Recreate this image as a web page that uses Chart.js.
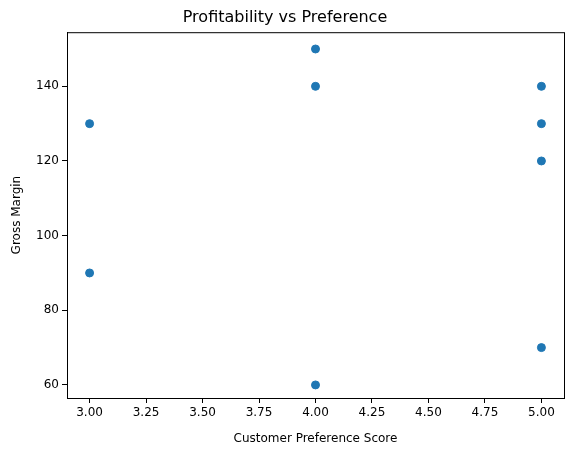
<!DOCTYPE html>
<html>
<head>
<meta charset="utf-8">
<script src="https://cdn.jsdelivr.net/npm/chart.js@4"></script>
<style>
  html, body { margin: 0; padding: 0; background: #fff; }
  #wrap { width: 571px; height: 455px; }
</style>
</head>
<body>
<div id="wrap"><canvas id="scatter"></canvas></div>
<script>
const preferenceScores = [3, 3, 4, 4, 4, 5, 5, 5, 5];
const grossMargins = [130, 90, 150, 140, 60, 140, 130, 120, 70];
const xTicks = [3.0, 3.25, 3.5, 3.75, 4.0, 4.25, 4.5, 4.75, 5.0];
const yTicks = [60, 80, 100, 120, 140];

Chart.defaults.font.family = "'DejaVu Sans', sans-serif";
Chart.defaults.color = '#000';

const frame = {
    id: 'frame',
    afterDraw(chart) {
        const a = chart.chartArea, c = chart.ctx;
        c.save();
        c.strokeStyle = '#000';
        c.lineWidth = 1;
        c.strokeRect(a.left + 0.5, a.top + 0.5, a.right - a.left, a.bottom - a.top);
        c.restore();
    }
};

new Chart(document.getElementById('scatter'), {
    type: 'scatter',
    data: {
        datasets: [{
            data: preferenceScores.map((x, i) => ({ x: x, y: grossMargins[i] })),
            backgroundColor: '#1f77b4',
            borderColor: '#1f77b4',
            pointRadius: 4,
            pointHoverRadius: 4
        }]
    },
    options: {
        responsive: true,
        maintainAspectRatio: false,
        animation: false,
        layout: { padding: { right: 7, left: 6, bottom: 5 } },
        plugins: {
            legend: { display: false },
            tooltip: { enabled: false },
            title: {
                display: true,
                text: 'Profitability vs Preference',
                font: { size: 16, weight: 'normal' },
                padding: { top: 8, bottom: 5 }
            }
        },
        scales: {
            x: {
                type: 'linear',
                min: 2.9,
                max: 5.1,
                afterBuildTicks: axis => { axis.ticks = xTicks.map(v => ({ value: v })); },
                afterFit: axis => { axis.height = 52; },
                ticks: { font: { size: 12 }, callback: v => v.toFixed(2), maxRotation: 0, autoSkip: false },
                grid: { drawOnChartArea: false, tickLength: 5, color: '#000' },
                border: { color: '#000' },
                title: { display: true, text: 'Customer Preference Score', font: { size: 12 }, padding: { top: 2 } }
            },
            y: {
                min: 56.5,
                max: 154.5,
                afterBuildTicks: axis => { axis.ticks = yTicks.map(v => ({ value: v })); },
                afterFit: axis => { axis.width = 61; },
                ticks: { font: { size: 12 } },
                grid: { drawOnChartArea: false, tickLength: 5, color: '#000' },
                border: { color: '#000' },
                title: { display: true, text: 'Gross Margin', font: { size: 12 } }
            }
        }
    },
    plugins: [frame]
});
</script>
</body>
</html>
